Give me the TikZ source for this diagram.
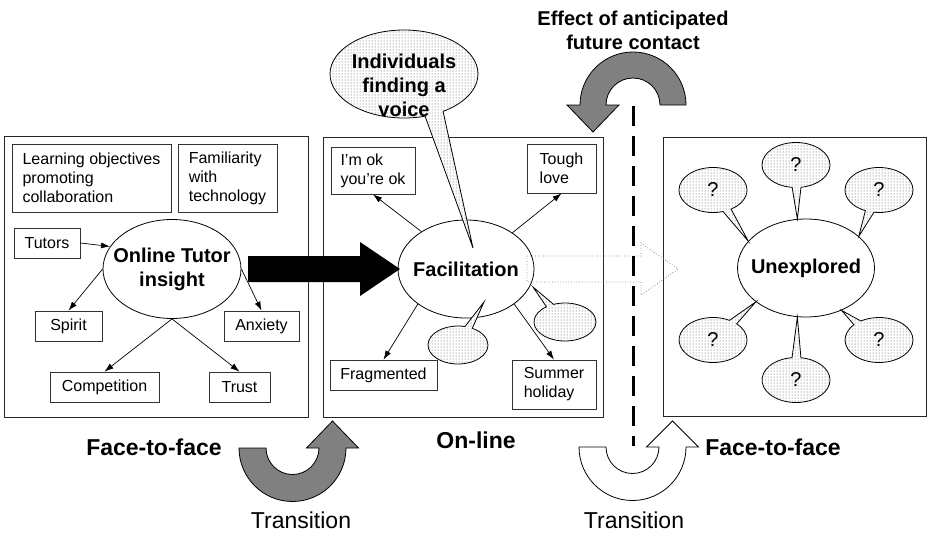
\documentclass[tikz,border=0pt]{standalone}
\usepackage{fontspec}
\setmainfont{Liberation Sans}
\usetikzlibrary{shapes.geometric,shapes.callouts,arrows.meta,patterns}
\tikzstyle{box} = [draw=black!80, line width=0.8pt, align=left, inner sep=0pt, font=\fontsize{16}{19}\selectfont]
\tikzstyle{hub} = [draw, ellipse, line width=0.8pt, inner xsep=-12pt, inner ysep=0pt, align=center, font=\bfseries\fontsize{20}{24}\selectfont]
\tikzstyle{dotfill} = [preaction={fill=white}, pattern=dots, pattern color=black!70]
\tikzstyle{bubble} = [draw, ellipse callout, line width=0.8pt, dotfill, inner sep=0pt, font=\fontsize{20}{24}\selectfont]
\tikzstyle{panel} = [draw, line width=1pt, black!85]
\tikzstyle{stage} = [font=\bfseries\fontsize{23}{28}\selectfont]
\tikzstyle{passage} = [font=\fontsize{23}{28}\selectfont]
\tikzstyle{turn} = [draw, line width=0.8pt]

\begin{document}
\begin{tikzpicture}[x=1pt, y=-1pt, >={Latex[length=9pt,width=6pt]}, every path/.append style={line width=0.7pt}]
      \useasboundingbox (0,0) rectangle (928,533);
      \draw[panel] (4,136) rectangle (308,417);
      \draw[panel] (323,137) rectangle (603,417);
      \draw[panel] (663,137) rectangle (926,416);

      \node[box, minimum width=159pt, minimum height=68pt] (learn) at (91.5,178) {Learning objectives\\promoting\\collaboration};
      \node[box, minimum width=99pt, minimum height=68pt] (famil) at (227.5,178) {Familiarity\\with\\technology};
      \node[box, minimum width=66pt, minimum height=30pt] (tutors) at (47,243) {Tutors};
      \node[hub, minimum width=138pt, minimum height=99pt] (insight) at (172,269) {Online Tutor\\insight};
      \node[box, minimum width=67pt, minimum height=30pt] (spirit) at (68.5,326) {Spirit};
      \node[box, minimum width=75pt, minimum height=30pt] (anxiety) at (261.5,326) {Anxiety};
      \node[box, minimum width=109pt, minimum height=30pt] (compet) at (104.5,387) {Competition};
      \node[box, minimum width=61pt, minimum height=30pt] (trust) at (239.5,387) {Trust};
      \draw[->] (tutors.east) -- (insight.160);
      \draw[->] (insight.west) -- (spirit.north);
      \draw[->] (insight.east) -- (anxiety.north);
      \draw[->] (insight.south) -- (compet.north);
      \draw[->] (insight.south) -- (trust.north);

      \node[hub, minimum width=136pt, minimum height=98pt] (facil) at (466,269) {Facilitation};
      \node[box, minimum width=84pt, minimum height=47pt] (imok) at (373,170.5) {I'm ok\\you're ok};
      \node[box, minimum width=69pt, minimum height=49pt] (tough) at (561.5,168.5) {Tough\\love};
      \node[box, minimum width=107pt, minimum height=30pt] (frag) at (383.5,375) {Fragmented};
      \node[box, minimum width=84pt, minimum height=49pt] (summer) at (554,384.5) {Summer\\holiday};
      \draw[->] (facil.140) -- (imok.south);
      \draw[->] (facil.38) -- (tough.south);
      \draw[->] (facil.216) -- (frag.north);
      \draw[->] (facil.-36) -- (summer.north);

      \fill (248,256) -- (360,256) -- (360,242) -- (400,269) -- (360,296) -- (360,282) -- (248,282) -- cycle;
      \draw[gray, dotted, line width=0.8pt] (527,256) -- (641,256) -- (641,243) -- (678,269) -- (641,295) -- (641,282) -- (527,282) -- cycle;

      \coordinate (voice) at (404,74);
      \coordinate (voicel) at (425,116);
      \coordinate (voicer) at (443,111);
      \coordinate (voicetip) at (473,248);
      \coordinate (tipa) at (484,302);
      \coordinate (tipb) at (533,287);
      \path[draw, line width=0.8pt, dotfill] (voice) ellipse [x radius=74, y radius=44];
      \path[dotfill] (voicel) -- (voicetip) -- (voicer) -- (voice) -- cycle;
      \draw[line width=0.8pt] (voicel) -- (voicetip) -- (voicer);
      \node[align=center, font=\bfseries\fontsize{20}{24}\selectfont] (voicetext) at (404,85) {Individuals\\finding a\\voice};
      \node[bubble, minimum width=60pt, minimum height=38pt, callout absolute pointer={(tipa)}] (quieta) at (458,345) {};
      \node[bubble, minimum width=62pt, minimum height=38pt, callout absolute pointer={(tipb)}] (quietb) at (565,322) {};

      \node[hub, minimum width=137pt, minimum height=98pt] (unex) at (806,268) {Unexplored};
      \node[bubble, minimum width=68pt, minimum height=45pt, callout absolute pointer={(unex.155)}] (qa) at (713,190) {?};
      \node[bubble, minimum width=68pt, minimum height=45pt, callout absolute pointer={(unex.100)}] (qb) at (796,165) {?};
      \node[bubble, minimum width=68pt, minimum height=45pt, callout absolute pointer={(unex.31)}] (qc) at (879,190) {?};
      \node[bubble, minimum width=68pt, minimum height=45pt, callout absolute pointer={(unex.214)}] (qd) at (713,340) {?};
      \node[bubble, minimum width=68pt, minimum height=45pt, callout absolute pointer={(unex.260)}] (qe) at (796,380) {?};
      \node[bubble, minimum width=68pt, minimum height=45pt, callout absolute pointer={(unex.310)}] (qf) at (879,340) {?};

      \filldraw[turn, fill=gray] (686,105) arc[start angle=0, end angle=-180, radius=53] -- (567,105) -- (593,132) -- (619,105) -- (606,105) arc[start angle=180, end angle=360, radius=27] -- cycle;
      \filldraw[turn, fill=gray] (239,448) arc[start angle=180, end angle=0, radius=53.5] -- (358.5,448) -- (332.5,421) -- (306.5,448) -- (319,448) arc[start angle=0, end angle=180, radius=26.5] -- cycle;
      \filldraw[turn, fill=white] (579,447) arc[start angle=180, end angle=0, radius=53.5] -- (698.5,447) -- (672.5,421) -- (646.5,447) -- (659,447) arc[start angle=0, end angle=180, radius=26.5] -- cycle;
      \draw[line width=3pt, dash pattern=on 20pt off 10pt] (633,106) -- (633,446);

      \node[align=center, font=\bfseries\fontsize{20}{24}\selectfont] (effect) at (633,30) {Effect of anticipated\\future contact};
      \node[stage] (ftfa) at (154,447) {Face-to-face};
      \node[stage] (online) at (476,440) {On-line};
      \node[stage] (ftfb) at (773,447) {Face-to-face};
      \node[passage] (transa) at (301,520) {Transition};
      \node[passage] (transb) at (634,520) {Transition};
    \end{tikzpicture}
\end{document}
